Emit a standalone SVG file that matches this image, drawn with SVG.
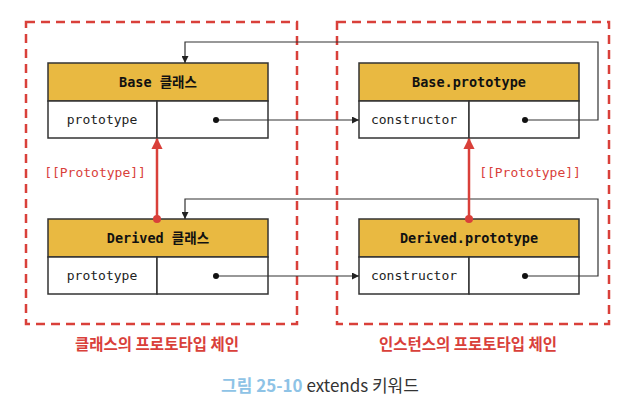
<svg xmlns="http://www.w3.org/2000/svg" width="634" height="409" viewBox="0 0 634 409">
<defs>
<style>
.dash{fill:none;stroke:#D9403A;stroke-width:2.5;stroke-dasharray:9,6}
.hdr{fill:#E9B941;stroke:#333;stroke-width:1.5}
.row{fill:#fff;stroke:#333;stroke-width:1.5}
.ht{font-family:"DejaVu Sans Mono","Noto Sans CJK KR",monospace;font-weight:bold;font-size:13.5px;fill:#111;text-anchor:middle}
.rt{font-family:"DejaVu Sans Mono",monospace;font-size:13px;fill:#222;text-anchor:middle}
.pl{font-family:"DejaVu Sans Mono",monospace;font-size:13px;fill:#D9403A;text-anchor:middle}
.cap{font-family:"Noto Sans CJK KR",sans-serif;font-weight:bold;font-size:15.5px;fill:#D9403A;text-anchor:middle}
.ln{fill:none;stroke:#333;stroke-width:1.2}
.red{fill:none;stroke:#D9403A;stroke-width:2.5}
</style>
<marker id="ah" viewBox="0 0 10 10" refX="10" refY="5" markerWidth="7" markerHeight="7" markerUnits="userSpaceOnUse" orient="auto"><path d="M0,0L10,5L0,10z" fill="#222"/></marker>
<marker id="rh" viewBox="0 0 10 10" refX="9" refY="5" markerWidth="4.5" markerHeight="4.5" orient="auto"><path d="M0,0L10,5L0,10z" fill="#D9403A"/></marker>
</defs>
<rect class="dash" x="26" y="22" width="271" height="302"/>
<rect class="dash" x="337" y="22" width="272" height="302"/>
<g id="base-class">
<rect class="hdr" x="48" y="63" width="220" height="38"/>
<rect class="row" x="48" y="101" width="109" height="37"/>
<rect class="row" x="157" y="101" width="111" height="37"/>
<text class="ht" x="158" y="87">Base 클래스</text>
<text class="rt" x="102" y="124">prototype</text>
</g>
<g id="base-prototype">
<rect class="hdr" x="359" y="63" width="220" height="38"/>
<rect class="row" x="359" y="101" width="110" height="37"/>
<rect class="row" x="469" y="101" width="110" height="37"/>
<text class="ht" x="469" y="87">Base.prototype</text>
<text class="rt" x="414" y="124">constructor</text>
</g>
<g id="derived-class">
<rect class="hdr" x="48" y="219" width="220" height="38"/>
<rect class="row" x="48" y="257" width="109" height="37"/>
<rect class="row" x="157" y="257" width="111" height="37"/>
<text class="ht" x="158" y="243">Derived 클래스</text>
<text class="rt" x="102" y="280">prototype</text>
</g>
<g id="derived-prototype">
<rect class="hdr" x="359" y="219" width="220" height="38"/>
<rect class="row" x="359" y="257" width="110" height="37"/>
<rect class="row" x="469" y="257" width="110" height="37"/>
<text class="ht" x="469" y="243">Derived.prototype</text>
<text class="rt" x="414" y="280">constructor</text>
</g>
<g id="connectors">
<path class="ln" d="M216,120H359" marker-end="url(#ah)"/>
<circle cx="216" cy="120" r="3" fill="#111"/>
<path class="ln" d="M525,120H598V42H185V63" marker-end="url(#ah)"/>
<circle cx="525" cy="120" r="3" fill="#111"/>
<path class="ln" d="M216,276H359" marker-end="url(#ah)"/>
<circle cx="216" cy="276" r="3" fill="#111"/>
<path class="ln" d="M525,276H598V199H185V219" marker-end="url(#ah)"/>
<circle cx="525" cy="276" r="3" fill="#111"/>
<path class="red" d="M157,219V139" marker-end="url(#rh)"/>
<circle cx="157" cy="219" r="4" fill="#D9403A"/>
<path class="red" d="M469,219V139" marker-end="url(#rh)"/>
<circle cx="469" cy="219" r="4" fill="#D9403A"/>
<text class="pl" x="95" y="177">[[Prototype]]</text>
<text class="pl" x="530" y="177">[[Prototype]]</text>
</g>
<text class="cap" x="157" y="350">클래스의 프로토타입 체인</text>
<text class="cap" x="468" y="350">인스턴스의 프로토타입 체인</text>
<text x="320" y="392" text-anchor="middle" font-family="'Noto Sans CJK KR',sans-serif" font-size="17"><tspan fill="#8EC3E6" font-weight="bold">그림 25-10</tspan><tspan fill="#333"> extends 키워드</tspan></text>
</svg>
